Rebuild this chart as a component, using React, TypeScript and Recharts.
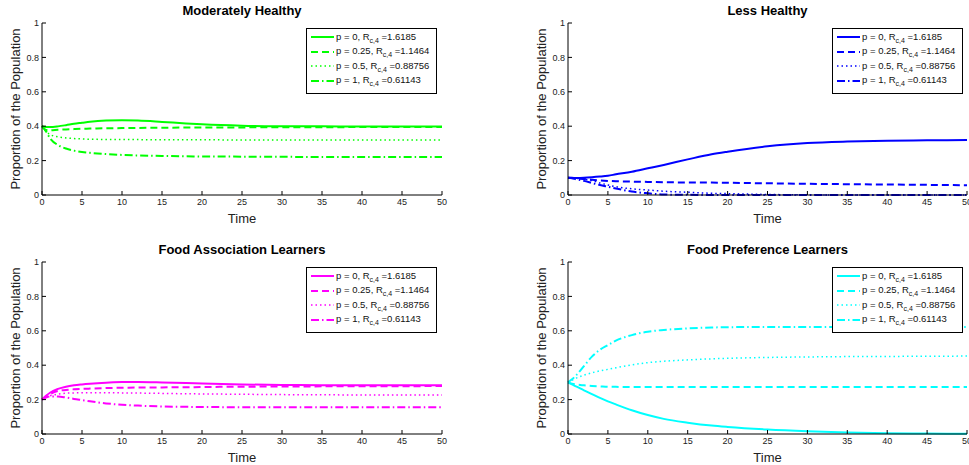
import React from 'react';
import { LineChart, Line, XAxis, YAxis, Legend } from 'recharts';

// ---------- data ----------
const time = [0, 0.5, 1, 2, 3, 4, 5, 6, 8, 10, 12, 15, 18, 20, 25, 30, 35, 40, 45, 50];
const xTicks = [0, 5, 10, 15, 20, 25, 30, 35, 40, 45, 50];
const yTicks = [0, 0.2, 0.4, 0.6, 0.8, 1];
const pLabels = ['0', '0.25', '0.5', '1'];
const rLabels = ['1.6185', '1.1464', '0.88756', '0.61143'];
const titles = ['Moderately Healthy', 'Less Healthy', 'Food Association Learners', 'Food Preference Learners'];

const moderateP0 = [0.4, 0.396, 0.395, 0.399, 0.406, 0.414, 0.42, 0.426, 0.433, 0.435, 0.433, 0.425, 0.416, 0.411, 0.403, 0.4, 0.399, 0.398, 0.398, 0.398];
const moderateP025 = [0.4, 0.378, 0.376, 0.379, 0.381, 0.383, 0.385, 0.386, 0.388, 0.389, 0.39, 0.391, 0.392, 0.392, 0.393, 0.394, 0.394, 0.395, 0.395, 0.395];
const moderateP05 = [0.4, 0.37, 0.352, 0.338, 0.332, 0.328, 0.326, 0.324, 0.323, 0.322, 0.322, 0.321, 0.321, 0.321, 0.32, 0.32, 0.32, 0.32, 0.32, 0.32];
const moderateP1 = [0.4, 0.37, 0.33, 0.29, 0.27, 0.258, 0.25, 0.245, 0.238, 0.233, 0.23, 0.227, 0.225, 0.224, 0.223, 0.222, 0.221, 0.221, 0.221, 0.221];

const lessP0 = [0.1, 0.1, 0.099, 0.1, 0.103, 0.107, 0.112, 0.12, 0.135, 0.155, 0.175, 0.207, 0.237, 0.252, 0.283, 0.302, 0.311, 0.316, 0.318, 0.32];
const lessP025 = [0.1, 0.099, 0.097, 0.093, 0.089, 0.085, 0.082, 0.08, 0.078, 0.076, 0.074, 0.073, 0.072, 0.071, 0.068, 0.065, 0.063, 0.061, 0.059, 0.057];
const lessP05 = [0.1, 0.099, 0.097, 0.092, 0.084, 0.07, 0.058, 0.048, 0.036, 0.029, 0.022, 0.016, 0.01, 0.008, 0.003, 0.001, 0, 0, 0, 0];
const lessP1 = [0.1, 0.097, 0.092, 0.082, 0.07, 0.058, 0.048, 0.038, 0.02, 0.01, 0.003, 0.001, 0, 0, 0, 0, 0, 0, 0, 0];

const assocP0 = [0.2, 0.222, 0.24, 0.262, 0.275, 0.283, 0.288, 0.292, 0.298, 0.302, 0.302, 0.3, 0.297, 0.294, 0.288, 0.285, 0.284, 0.283, 0.283, 0.283];
const assocP025 = [0.2, 0.218, 0.232, 0.25, 0.256, 0.26, 0.262, 0.264, 0.267, 0.269, 0.27, 0.271, 0.272, 0.273, 0.275, 0.276, 0.277, 0.278, 0.278, 0.279];
const assocP05 = [0.2, 0.213, 0.222, 0.232, 0.237, 0.239, 0.24, 0.24, 0.24, 0.239, 0.238, 0.236, 0.234, 0.233, 0.231, 0.229, 0.228, 0.227, 0.227, 0.227];
const assocP1 = [0.2, 0.212, 0.218, 0.218, 0.212, 0.204, 0.197, 0.19, 0.178, 0.17, 0.165, 0.16, 0.158, 0.157, 0.156, 0.156, 0.156, 0.156, 0.156, 0.156];

const prefP0 = [0.3, 0.288, 0.277, 0.254, 0.232, 0.21, 0.19, 0.172, 0.138, 0.11, 0.088, 0.066, 0.049, 0.041, 0.026, 0.016, 0.009, 0.005, 0.003, 0.001];
const prefP025 = [0.3, 0.293, 0.288, 0.283, 0.279, 0.277, 0.275, 0.274, 0.273, 0.273, 0.273, 0.273, 0.273, 0.273, 0.273, 0.273, 0.273, 0.273, 0.273, 0.273];
const prefP05 = [0.3, 0.312, 0.324, 0.342, 0.356, 0.367, 0.376, 0.385, 0.402, 0.415, 0.423, 0.431, 0.437, 0.44, 0.445, 0.448, 0.45, 0.451, 0.452, 0.453];
const prefP1 = [0.3, 0.318, 0.34, 0.395, 0.45, 0.49, 0.517, 0.543, 0.575, 0.595, 0.605, 0.614, 0.619, 0.621, 0.622, 0.622, 0.622, 0.622, 0.622, 0.622];

// ---------- styles ----------
const FONT = '"Liberation Sans", Arial, Helvetica, sans-serif';
const lineStyles = [
  { dash: undefined as string | undefined, width: 2 },
  { dash: '7 4', width: 2 },
  { dash: '1.5 3', width: 1.5 },
  { dash: '8 3 1.5 3', width: 2 },
];
const TICK_MARGIN_Y = 3;
const TICK_MARGIN_X = 4;
const TICK_LEN = 4;

const LeftTick = (props: any) => {
  const { x, y, payload } = props;
  return (
    <g>
      <line x1={x + TICK_MARGIN_Y} x2={x + TICK_MARGIN_Y + TICK_LEN} y1={y} y2={y} stroke="#000" strokeWidth={1} />
      <text x={x} y={y} dy="0.35em" textAnchor="end" fontSize={9} fontFamily={FONT} fill="#222">
        {String(payload.value)}
      </text>
    </g>
  );
};

const BottomTick = (props: any) => {
  const { x, y, payload } = props;
  return (
    <g>
      <line x1={x} x2={x} y1={y - TICK_MARGIN_X} y2={y - TICK_MARGIN_X - TICK_LEN} stroke="#000" strokeWidth={1} />
      <text x={x} y={y} dy="0.71em" textAnchor="middle" fontSize={9} fontFamily={FONT} fill="#222">
        {String(payload.value)}
      </text>
    </g>
  );
};

const TopTick = (props: any) => {
  const { x, y } = props;
  return <line x1={x} x2={x} y1={y} y2={y + TICK_LEN} stroke="#000" strokeWidth={1} />;
};

const RightTick = (props: any) => {
  const { x, y } = props;
  return <line x1={x} x2={x - TICK_LEN} y1={y} y2={y} stroke="#000" strokeWidth={1} />;
};

function LegendBox({ color }: { color: string }) {
  return (
    <div
      style={{
        width: 131,
        height: 66,
        border: '1px solid #000',
        background: '#fff',
        boxSizing: 'border-box',
        position: 'relative',
        fontFamily: FONT,
        fontSize: '9.5px',
        color: '#111',
      }}
    >
      {pLabels.map((p, i) => (
        <div
          key={i}
          style={{ position: 'absolute', left: 0, top: 1 + i * 14.6, height: 14, width: '100%', display: 'flex', alignItems: 'center' }}
        >
          <svg width={29} height={14} style={{ flex: '0 0 auto' }}>
            <line x1={4} x2={27} y1={7} y2={7} stroke={color} strokeWidth={lineStyles[i].width} strokeDasharray={lineStyles[i].dash} />
          </svg>
          <span style={{ whiteSpace: 'nowrap', lineHeight: '14px' }}>
            p = {p}, R
            <span style={{ fontSize: '7px', position: 'relative', top: 3 }}>c,4</span> ={rLabels[i]}
          </span>
        </div>
      ))}
    </div>
  );
}

type PanelProps = {
  left: number;
  top: number;
  width: number;
  height: number;
  yAxisWidth: number;
  marginRight: number;
  title: string;
  color: string;
  series: number[][];
  legendLeft: number;
};

function Panel({ left, top, width, height, yAxisWidth, marginRight, title, color, series, legendLeft }: PanelProps) {
  const data = time.map((t, i) => ({
    t,
    s0: series[0][i],
    s1: series[1][i],
    s2: series[2][i],
    s3: series[3][i],
  }));
  const plotTop = 23;
  const plotH = 172;
  const xAxisH = 20;
  const plotRight = width - marginRight;
  return (
    <div style={{ position: 'absolute', left, top, width, height }}>
      <LineChart
        width={width}
        height={height}
        data={data}
        margin={{ top: plotTop, right: marginRight, bottom: height - plotTop - plotH - xAxisH, left: 0 }}
      >
        <XAxis
          dataKey="t"
          type="number"
          domain={[0, 50]}
          ticks={xTicks}
          height={xAxisH}
          tickSize={0}
          tickMargin={TICK_MARGIN_X}
          tickLine={false}
          axisLine={{ stroke: '#000', strokeWidth: 1 }}
          tick={BottomTick}
          interval={0}
          label={(p: any) => {
            const vb = p.viewBox;
            return (
              <text
                x={vb.x + vb.width / 2}
                y={vb.y + 23}
                dominantBaseline="central"
                textAnchor="middle"
                fontSize={13}
                fontFamily={FONT}
                fill="#222"
              >
                Time
              </text>
            );
          }}
        />
        <XAxis
          xAxisId="top"
          orientation="top"
          dataKey="t"
          type="number"
          domain={[0, 50]}
          ticks={xTicks}
          height={0}
          tickSize={0}
          tickMargin={0}
          tickLine={false}
          axisLine={{ stroke: '#000', strokeWidth: 1 }}
          tick={TopTick}
          interval={0}
        />
        <YAxis
          type="number"
          domain={[0, 1]}
          ticks={yTicks}
          width={yAxisWidth}
          tickSize={0}
          tickMargin={TICK_MARGIN_Y}
          tickLine={false}
          axisLine={{ stroke: '#000', strokeWidth: 1 }}
          tick={LeftTick}
          interval={0}
          label={(p: any) => {
            const vb = p.viewBox;
            const cx = vb.x + vb.width - 27;
            const cy = vb.y + vb.height / 2;
            return (
              <text
                x={cx}
                y={cy}
                transform={`rotate(-90 ${cx} ${cy})`}
                dominantBaseline="central"
                textAnchor="middle"
                fontSize={13}
                fontFamily={FONT}
                fill="#222"
              >
                Proportion of the Population
              </text>
            );
          }}
        />
        <YAxis
          yAxisId="right"
          orientation="right"
          type="number"
          domain={[0, 1]}
          ticks={yTicks}
          width={0}
          tickSize={0}
          tickMargin={0}
          tickLine={false}
          axisLine={{ stroke: '#000', strokeWidth: 1 }}
          tick={RightTick}
          interval={0}
        />
        {lineStyles.map((ls, i) => (
          <Line
            key={i}
            dataKey={`s${i}`}
            type="monotone"
            stroke={color}
            strokeWidth={ls.width}
            strokeDasharray={ls.dash}
            dot={false}
            activeDot={false}
            isAnimationActive={false}
          />
        ))}
        <Legend
          layout="vertical"
          align="center"
          verticalAlign="middle"
          wrapperStyle={{ position: 'absolute', left: legendLeft, top: 28, width: 131, height: 66 }}
          content={() => <LegendBox color={color} />}
        />
      </LineChart>
      <div
        style={{
          position: 'absolute',
          left: yAxisWidth,
          width: plotRight - yAxisWidth,
          top: 3,
          textAlign: 'center',
          fontFamily: FONT,
          fontWeight: 'bold',
          fontSize: '13px',
          lineHeight: '16px',
          color: '#000',
          pointerEvents: 'none',
        }}
      >
        {title}
      </div>
    </div>
  );
}

export default function App() {
  return (
    <div
      style={{ position: 'absolute', left: 0, top: 0, width: 969, height: 465, overflow: 'hidden', background: '#fff' }}
    >
      <Panel
        left={0}
        top={0}
        width={480}
        height={232}
        yAxisWidth={42}
        marginRight={38}
        title={titles[0]}
        color="#00ff00"
        series={[moderateP0, moderateP025, moderateP05, moderateP1]}
        legendLeft={306}
      />
      <Panel
        left={480}
        top={0}
        width={489}
        height={232}
        yAxisWidth={88}
        marginRight={2}
        title={titles[1]}
        color="#0000ff"
        series={[lessP0, lessP025, lessP05, lessP1]}
        legendLeft={352}
      />
      <Panel
        left={0}
        top={239}
        width={480}
        height={226}
        yAxisWidth={42}
        marginRight={38}
        title={titles[2]}
        color="#ff00ff"
        series={[assocP0, assocP025, assocP05, assocP1]}
        legendLeft={306}
      />
      <Panel
        left={480}
        top={239}
        width={489}
        height={226}
        yAxisWidth={88}
        marginRight={2}
        title={titles[3]}
        color="#00ffff"
        series={[prefP0, prefP025, prefP05, prefP1]}
        legendLeft={352}
      />
    </div>
  );
}
